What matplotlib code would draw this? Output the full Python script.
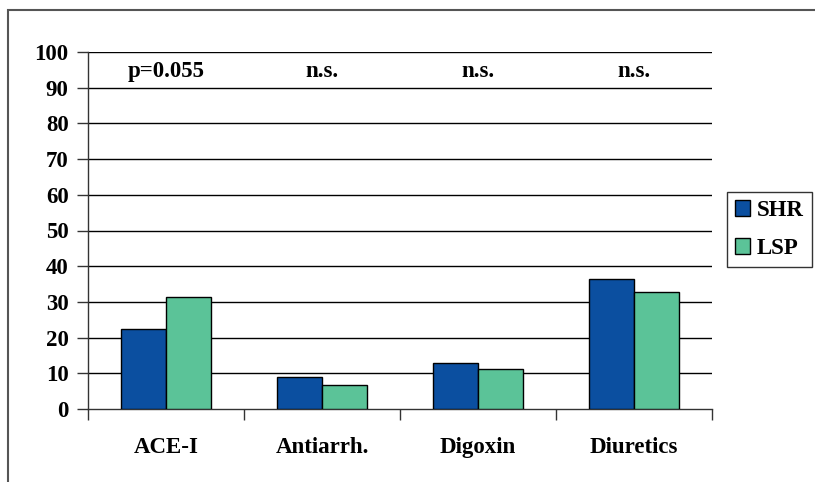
import matplotlib
matplotlib.use("Agg")
import matplotlib.pyplot as plt
from matplotlib.patches import Rectangle, Patch
import numpy as np

categories = ["ACE-I", "Antiarrh.", "Digoxin", "Diuretics"]
shr = [22.4, 9.1, 12.8, 36.4]
lsp = [31.5, 6.7, 11.2, 32.9]
annotations = ["p=0.055", "n.s.", "n.s.", "n.s."]
yticks = list(range(0, 101, 10))

SHR_COLOR = "#0B4FA0"
LSP_COLOR = "#5BC398"
FS = 16.5

plt.rcParams["font.family"] = ["Liberation Serif", "DejaVu Serif"]
plt.rcParams["font.weight"] = "bold"

W, H = 815, 482
fig = plt.figure(figsize=(W / 100, H / 100), dpi=100)
ax = fig.add_axes([88 / W, 1 - 409 / H, (712 - 88) / W, (409 - 52) / H])

# outer frame
fig.add_artist(Rectangle((8 / W, -0.1), 1.2, 1 - 10 / H + 0.1, transform=fig.transFigure,
                         fill=False, edgecolor="#555555", linewidth=1.5))

x = np.arange(len(categories))
bw = 1 / 3.5
ax.bar(x - bw / 2, shr, bw, color=SHR_COLOR, edgecolor="black", linewidth=1, zorder=3, label="SHR")
ax.bar(x + bw / 2, lsp, bw, color=LSP_COLOR, edgecolor="black", linewidth=1, zorder=3, label="LSP")

ax.set_xlim(-0.5, len(categories) - 0.5)
ax.set_ylim(0, 100)
ax.set_yticks(yticks)
ax.set_yticklabels([str(v) for v in yticks], fontsize=FS, fontweight="bold")
for v in yticks[1:]:
    ax.axhline(v, color="black", linewidth=1, zorder=1)

ax.set_xticks(np.arange(len(categories) + 1) - 0.5)
ax.set_xticklabels([])
ax.set_xticks(x, minor=True)
ax.set_xticklabels(categories, minor=True, fontsize=FS, fontweight="bold")
ax.tick_params(axis="x", which="major", direction="out", length=8, width=1, color="#333333")
ax.tick_params(axis="x", which="minor", length=0, pad=20)
ax.tick_params(axis="y", direction="out", length=8, width=1, color="#333333", pad=6)

for s in ["top", "right"]:
    ax.spines[s].set_visible(False)
ax.spines["left"].set_color("#333333")
ax.spines["bottom"].set_color("#333333")
ax.spines["left"].set_linewidth(1)
ax.spines["bottom"].set_linewidth(1)

for xi, t in zip(x, annotations):
    ax.text(xi, 94.5, t, ha="center", va="center", fontsize=FS, fontweight="bold")

handles = [Patch(facecolor=SHR_COLOR, edgecolor="black"), Patch(facecolor=LSP_COLOR, edgecolor="black")]
leg = fig.legend(handles, ["SHR", "LSP"], loc="center left", bbox_to_anchor=(727 / W, 1 - 229.5 / H),
                 fontsize=FS, frameon=True, fancybox=False, edgecolor="black",
                 handlelength=0.65, handleheight=0.65, handletextpad=0.3, borderpad=0.35,
                 labelspacing=0.75, borderaxespad=0)
leg.get_frame().set_linewidth(1)
for t in leg.get_texts():
    t.set_fontweight("bold")

fig.savefig("out.png", dpi=100)
